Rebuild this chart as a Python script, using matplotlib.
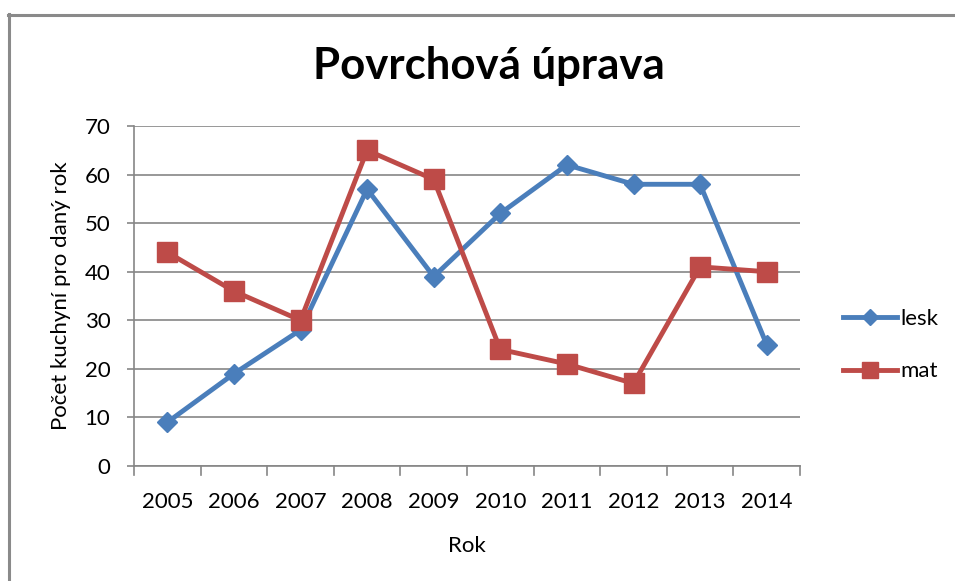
import matplotlib
matplotlib.use("Agg")
import matplotlib.pyplot as plt
from matplotlib.lines import Line2D

years = ["2005", "2006", "2007", "2008", "2009", "2010", "2011", "2012", "2013", "2014"]
lesk = [9, 19, 28, 57, 39, 52, 62, 58, 58, 25]
mat = [44, 36, 30, 65, 59, 24, 21, 17, 41, 40]
yticks = [0, 10, 20, 30, 40, 50, 60, 70]

plt.rcParams['font.family'] = ['Lato', 'DejaVu Sans']

W, H = 955, 581
fig = plt.figure(figsize=(W / 100, H / 100), dpi=100)
ax = fig.add_axes([134 / W, 1 - 466 / H, (800 - 134) / W, (466 - 126) / H])

gray = "#868686"
blue = "#4A7EBB"
red = "#BE4B48"

x = list(range(len(years)))
ax.plot(x, lesk, color=blue, lw=3.5, marker="D", markersize=10.5, label="lesk", zorder=3)
ax.plot(x, mat, color=red, lw=3.5, marker="s", markersize=14, label="mat", zorder=4)

ax.set_xlim(-0.5, len(years) - 0.5)
ax.set_ylim(0, 70)
ax.set_yticks(yticks)
ax.set_yticklabels([str(v) for v in yticks], fontsize=16)
ax.set_xticks(x)
ax.set_xticklabels(years, fontsize=16)
ax.tick_params(axis="x", length=0, pad=19)
ax.tick_params(axis="y", length=5, width=1.2, color=gray, pad=12)
for b in [i - 0.5 for i in range(len(years) + 1)]:
    ax.plot([b, b], [0, -0.025], transform=ax.get_xaxis_transform(), color=gray,
            lw=1.2, clip_on=False)
ax.grid(axis="y", color=gray, lw=1.2)
ax.set_axisbelow(True)
for s in ["top", "right"]:
    ax.spines[s].set_visible(False)
for s in ["left", "bottom"]:
    ax.spines[s].set_color(gray)
    ax.spines[s].set_linewidth(1.2)

ax.set_xlabel("Rok", fontsize=16, labelpad=17)
ax.set_ylabel("Počet kuchyní pro daný rok", fontsize=16, labelpad=10)

fig.text(489 / W, 1 - 66 / H, "Povrchová úprava", fontsize=31.5, fontweight="bold",
         ha="center", va="center")

leg = ax.legend(loc="center left", bbox_to_anchor=(1.035, 0.355), frameon=False,
                fontsize=16, handlelength=2.4, labelspacing=1.45, handletextpad=0.15,
                markerscale=0.8)

fig.add_artist(Line2D([8.5 / W, 8.5 / W], [0, 1 - 14 / H], color="#8a8a8a", lw=2.2,
                      transform=fig.transFigure))
fig.add_artist(Line2D([8 / W, 1], [1 - 14.5 / H, 1 - 14.5 / H], color="#8a8a8a", lw=2.2,
                      transform=fig.transFigure))

fig.savefig("out.png", dpi=100)
